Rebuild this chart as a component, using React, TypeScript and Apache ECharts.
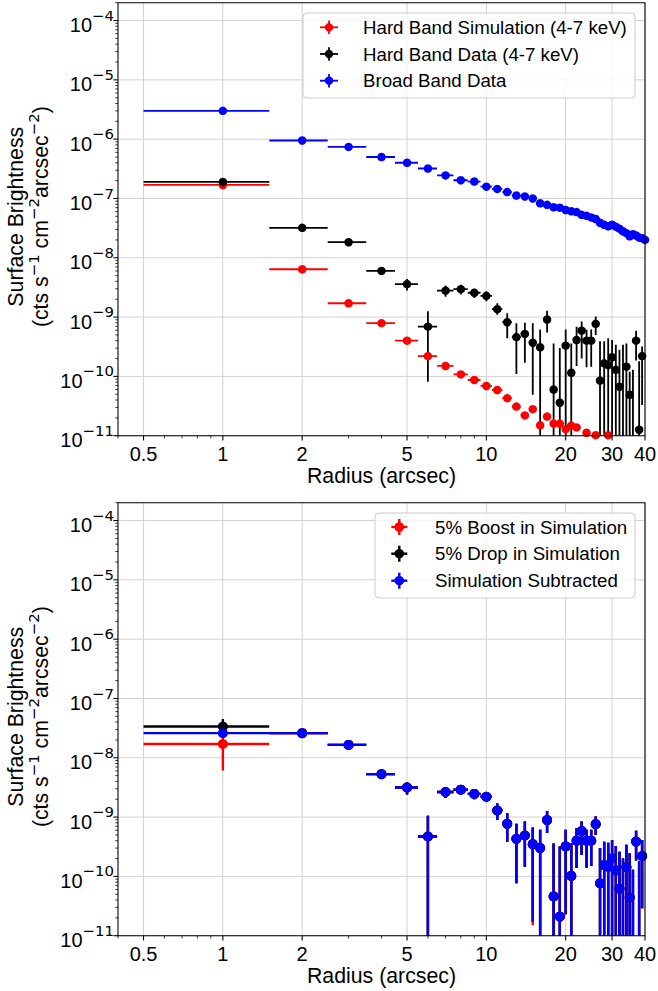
import React, { useEffect, useRef } from "react";
import * as echarts from "echarts";

// ---------------- DATA ----------------
const radii = [1, 2, 3, 4, 5, 6, 7, 8, 9, 10, 11, 12, 13, 14, 15, 16, 17, 18, 19, 20, 21, 22, 23, 24, 25, 26, 27, 28, 29, 30, 31, 32, 33, 34, 35, 36, 37, 38, 39, 40];
const binHalfWidth = 0.5;

// Top panel
const hardSimVal = [1.69e-7, 6.4e-9, 1.71e-9, 7.9e-10, 4.0e-10, 2.2e-10, 1.5e-10, 1.08e-10, 8.7e-11, 6.9e-11, 5.9e-11, 4.3e-11, 3.1e-11, 2.2e-11, 2.8e-11, 1.5e-11, 2.1e-11, 1.6e-11, 1.6e-11, 1.29e-11, 1.48e-11, 1.38e-11, null, 1.12e-11, null, 1.02e-11, null, null, 1.02e-11, null, null, null, null, null, null, null, null, null, null, null];

const hardDataVal = [1.9e-7, 3.2e-8, 1.83e-8, 6.0e-9, 3.6e-9, 6.9e-10, 2.8e-9, 2.96e-9, 2.57e-9, 2.28e-9, 1.36e-9, 8.2e-10, 4.6e-10, 5.2e-10, 3.7e-10, 3.1e-10, 9.1e-10, 6.0e-11, 3.6e-11, 3.3e-10, 1.15e-10, 4.1e-10, 5.9e-10, 4.0e-10, 4.0e-10, 7.7e-10, 8.5e-11, 1.66e-10, 1.55e-10, 2.1e-10, 1.29e-10, 6.7e-11, 5e-12, 1.46e-10, 4.9e-11, 5e-12, 4.0e-10, 1.26e-11, 2.2e-10, null];
const hardDataLo = [1.8e-7, 3.0e-8, 1.72e-8, 5.1e-9, 2.8e-9, 8.1e-11, 2.2e-9, 2.4e-9, 2.1e-9, 1.85e-9, 1.09e-9, 4.4e-10, 1.1e-10, 1.7e-10, 4.9e-11, 1e-12, 5.5e-10, 1e-12, 1e-12, 1e-12, 1e-12, 1.5e-10, 2.0e-10, 1.43e-10, 1.45e-10, 5.0e-10, 1e-12, 1e-12, 1e-12, 1e-12, 1e-12, 1e-12, 1e-12, 1e-12, 1e-12, 1e-12, 1.86e-10, 1e-12, 3.3e-11, null];
const hardDataHi = [2.0e-7, 3.4e-8, 1.95e-8, 7.0e-9, 4.4e-9, 1.26e-9, 3.4e-9, 3.5e-9, 3.0e-9, 2.7e-9, 1.71e-9, 1.16e-9, 7.9e-10, 8.05e-10, 7.9e-10, 6.2e-10, 1.28e-9, 3.6e-10, 3.0e-10, 6.2e-10, 3.6e-10, 6.9e-10, 8.4e-10, 6.1e-10, 6.2e-10, 1.02e-9, 3.9e-10, 3.9e-10, 4.4e-10, 4.1e-10, 3.4e-10, 2.8e-10, 3.4e-10, 3.6e-10, 1.2e-10, 1.3e-10, 5.9e-10, 1.8e-10, 3.2e-10, null];

const broadVal = [3.0e-6, 9.5e-7, 7.4e-7, 5.0e-7, 4.0e-7, 3.2e-7, 2.45e-7, 2.03e-7, 1.93e-7, 1.58e-7, 1.45e-7, 1.28e-7, 1.12e-7, 1.08e-7, 1.0e-7, 8.3e-8, 7.8e-8, 7.1e-8, 7.0e-8, 6.4e-8, 6.1e-8, 5.9e-8, 5.3e-8, 5.1e-8, 4.8e-8, 4.5e-8, 3.9e-8, 3.6e-8, 3.4e-8, 3.6e-8, 3.35e-8, 3.1e-8, 2.8e-8, 2.6e-8, 2.3e-8, 2.5e-8, 2.37e-8, 2.2e-8, 2.14e-8, 2.0e-8];

// Bottom panel
const boostVal = [1.71e-8, 2.6e-8, 1.65e-8, 5.3e-9, 3.15e-9, 4.7e-10, 2.65e-9, 2.9e-9, 2.46e-9, 2.2e-9, 1.29e-9, 7.7e-10, 4.3e-10, 4.9e-10, 3.5e-10, 3.0e-10, 8.9e-10, 4.6e-11, 2.1e-11, 3.2e-10, 1.02e-10, 4.0e-10, 5.8e-10, 4.0e-10, 4.0e-10, 7.6e-10, 7.65e-11, 1.55e-10, 1.46e-10, 2.0e-10, 1.26e-10, 6.2e-11, 5e-12, 1.43e-10, 4.4e-11, 5e-12, 3.86e-10, 5e-12, 2.2e-10, null];
const boostLo = [6.1e-9, 2.5e-8, 1.55e-8, 4.4e-9, 2.4e-9, 1e-12, 2.1e-9, 2.4e-9, 2.0e-9, 1.8e-9, 8.9e-10, 3.85e-10, 7.7e-11, 1.46e-10, 1.5e-11, 1e-12, 5.4e-10, 1e-12, 1e-12, 2.3e-11, 1e-12, 1.38e-10, 2.3e-10, 1.4e-10, 1.5e-10, 5.0e-10, 1e-12, 1e-12, 1e-12, 1e-12, 1e-12, 1e-12, 1e-12, 1e-12, 1e-12, 1e-12, 1.86e-10, 1e-12, 2.9e-11, null];
const boostHi = [2.8e-8, 2.7e-8, 1.75e-8, 6.2e-9, 3.9e-9, 1.05e-9, 3.2e-9, 3.4e-9, 2.9e-9, 2.6e-9, 1.7e-9, 1.16e-9, 7.7e-10, 8.4e-10, 6.7e-10, 6.1e-10, 1.27e-9, 3.6e-10, 3.2e-10, 6.1e-10, 3.6e-10, 6.5e-10, 8.4e-10, 6.1e-10, 6.1e-10, 1.02e-9, 3.0e-10, 3.85e-10, 3.7e-10, 4.1e-10, 3.26e-10, 2.6e-10, 2.0e-10, 3.4e-10, 2.46e-10, 1.29e-10, 5.9e-10, 1.8e-10, 4.1e-10, null];

const dropVal = [3.36e-8, 2.6e-8, 1.65e-8, 5.3e-9, 3.15e-9, 4.7e-10, 2.65e-9, 2.9e-9, 2.46e-9, 2.2e-9, 1.29e-9, 7.7e-10, 4.3e-10, 4.9e-10, 3.5e-10, 3.0e-10, 8.9e-10, 4.6e-11, 2.1e-11, 3.2e-10, 1.02e-10, 4.0e-10, 5.8e-10, 4.0e-10, 4.0e-10, 7.6e-10, 7.65e-11, 1.55e-10, 1.46e-10, 2.0e-10, 1.26e-10, 6.2e-11, 5e-12, 1.43e-10, 4.4e-11, 5e-12, 3.86e-10, 5e-12, 2.2e-10, null];
const dropLo = [2.3e-8, 2.5e-8, 1.55e-8, 4.4e-9, 2.4e-9, 1e-12, 2.1e-9, 2.4e-9, 2.0e-9, 1.8e-9, 8.9e-10, 3.85e-10, 7.7e-11, 1.46e-10, 1.7e-11, 1e-12, 5.4e-10, 1e-12, 1e-12, 2.3e-11, 1e-12, 1.38e-10, 2.3e-10, 1.4e-10, 1.5e-10, 5.0e-10, 1e-12, 1e-12, 1e-12, 1e-12, 1e-12, 1e-12, 1e-12, 1e-12, 1e-12, 1e-12, 1.86e-10, 1e-12, 2.9e-11, null];
const dropHi = [4.5e-8, 2.7e-8, 1.75e-8, 6.2e-9, 3.9e-9, 1.05e-9, 3.2e-9, 3.4e-9, 2.9e-9, 2.6e-9, 1.7e-9, 1.16e-9, 7.7e-10, 8.4e-10, 6.7e-10, 6.1e-10, 1.27e-9, 3.6e-10, 3.2e-10, 6.1e-10, 3.6e-10, 6.5e-10, 8.4e-10, 6.1e-10, 6.1e-10, 1.02e-9, 3.0e-10, 3.85e-10, 3.7e-10, 4.1e-10, 3.26e-10, 2.6e-10, 2.0e-10, 3.4e-10, 2.46e-10, 1.29e-10, 5.9e-10, 1.8e-10, 4.1e-10, null];

const subVal = [2.6e-8, 2.6e-8, 1.65e-8, 5.3e-9, 3.15e-9, 4.7e-10, 2.65e-9, 2.9e-9, 2.46e-9, 2.2e-9, 1.29e-9, 7.7e-10, 4.3e-10, 4.9e-10, 3.5e-10, 3.0e-10, 8.9e-10, 4.6e-11, 2.1e-11, 3.2e-10, 1.02e-10, 4.0e-10, 5.8e-10, 4.0e-10, 4.0e-10, 7.6e-10, 7.65e-11, 1.55e-10, 1.46e-10, 2.0e-10, 1.26e-10, 6.2e-11, 5e-12, 1.43e-10, 4.4e-11, 5e-12, 3.86e-10, 5e-12, 2.2e-10, null];
const subLo = [2.5e-8, 2.5e-8, 1.55e-8, 4.4e-9, 2.4e-9, 1e-12, 2.1e-9, 2.4e-9, 2.0e-9, 1.8e-9, 8.9e-10, 3.85e-10, 7.7e-11, 1.46e-10, 1.7e-11, 1e-12, 5.4e-10, 1e-12, 1e-12, 2.3e-11, 1e-12, 1.38e-10, 2.3e-10, 1.4e-10, 1.5e-10, 5.0e-10, 1e-12, 1e-12, 1e-12, 1e-12, 1e-12, 1e-12, 1e-12, 1e-12, 1e-12, 1e-12, 1.86e-10, 1e-12, 2.9e-11, null];
const subHi = [2.7e-8, 2.7e-8, 1.75e-8, 6.2e-9, 3.9e-9, 1.05e-9, 3.2e-9, 3.4e-9, 2.9e-9, 2.6e-9, 1.7e-9, 1.16e-9, 7.7e-10, 8.4e-10, 6.7e-10, 6.1e-10, 1.27e-9, 3.6e-10, 3.2e-10, 6.1e-10, 3.6e-10, 6.5e-10, 8.4e-10, 6.1e-10, 6.1e-10, 1.02e-9, 3.0e-10, 3.85e-10, 3.7e-10, 4.1e-10, 3.26e-10, 2.6e-10, 2.0e-10, 3.4e-10, 2.46e-10, 1.29e-10, 5.9e-10, 1.8e-10, 4.1e-10, null];

// Axes / ticks
const X_MIN = 0.4;
const X_MAX = 40;
const Y_MIN = 1e-11;
const Y_MAX = 2e-4;
const xMajorTicks = [0.5, 1, 2, 5, 10, 20, 30, 40];
const xTickLabels = ["0.5", "1", "2", "5", "10", "20", "30", "40"];
const xMinorTicks = [0.4, 0.6, 0.7, 0.8, 0.9, 3, 4, 6, 7, 8, 9];
const yDecadeExps = [-11, -10, -9, -8, -7, -6, -5, -4];
const yMinorMultipliers = [2, 3, 4, 5, 6, 7, 8, 9];

// Texts
const topLegendLabels = ["Hard Band Simulation (4-7 keV)", "Hard Band Data (4-7 keV)", "Broad Band Data"];
const bottomLegendLabels = ["5% Boost in Simulation", "5% Drop in Simulation", "Simulation Subtracted"];
const xAxisTitle = "Radius (arcsec)";
const yAxisTitle1 = "Surface Brightness";

// ---------------- STYLE / LAYOUT ----------------
const RED = "#ff0000";
const BLACK = "#000000";
const BLUE = "#0000ff";
const GRID_COLOR = "#d2d2d2";
const FONT = '"Liberation Sans", Arial, Helvetica, sans-serif';
const MATH = '"DejaVu Sans", sans-serif';
const GRID_LEFT = 118;
const GRID_W = 527;
const GRID_H = 433;
const gridTops = [2.7, 502.7];

const supRich = {
  b: { fontSize: 20, fontFamily: FONT, lineHeight: 34, fill: "#000", color: "#000" },
  s: { fontSize: 14.9, fontFamily: MATH, lineHeight: 15, verticalAlign: "top", fill: "#000", color: "#000" },
};
const titleRich = {
  r: { fontSize: 21.3, fontFamily: FONT, lineHeight: 30, fill: "#000", color: "#000" },
  s: { fontSize: 14.9, fontFamily: MATH, lineHeight: 15, verticalAlign: "top", fill: "#000", color: "#000" },
};

function textStyle(text: string, size: number, align: string, vAlign: string, family = FONT, extra: any = {}) {
  return {
    text,
    fontSize: size,
    fontFamily: family,
    fill: "#000",
    align,
    verticalAlign: vAlign,
    textAlign: align,
    textVerticalAlign: vAlign,
    ...extra,
  };
}

function gridLinesSeries(gi: number) {
  return {
    type: "custom",
    xAxisIndex: gi,
    yAxisIndex: gi,
    silent: true,
    z: 1,
    data: [[1, 1e-8]],
    renderItem: (params: any, api: any) => {
      const cs = params.coordSys;
      const T = cs.y, B = cs.y + cs.height, L = cs.x, R = cs.x + cs.width;
      const children: any[] = [];
      xMajorTicks.forEach((v) => {
        const p = api.coord([v, Y_MIN]);
        children.push({ type: "line", shape: { x1: p[0], y1: T, x2: p[0], y2: B }, style: { stroke: GRID_COLOR, lineWidth: 1 } });
      });
      yDecadeExps.forEach((e) => {
        const p = api.coord([X_MIN, Math.pow(10, e)]);
        children.push({ type: "line", shape: { x1: L, y1: p[1], x2: R, y2: p[1] }, style: { stroke: GRID_COLOR, lineWidth: 1 } });
      });
      return { type: "group", children };
    },
  };
}

function frameSeries(gi: number) {
  return {
    type: "custom",
    xAxisIndex: gi,
    yAxisIndex: gi,
    silent: true,
    z: 10,
    data: [[1, 1e-8]],
    renderItem: (params: any, api: any) => {
      const cs = params.coordSys;
      const T = cs.y, B = cs.y + cs.height, L = cs.x, R = cs.x + cs.width;
      const children: any[] = [];
      children.push({ type: "rect", shape: { x: L, y: T, width: cs.width, height: cs.height }, style: { fill: "none", stroke: "#000", lineWidth: 1.07 } });
      xMajorTicks.forEach((v, i) => {
        const p = api.coord([v, Y_MIN]);
        children.push({ type: "line", shape: { x1: p[0], y1: B, x2: p[0], y2: B + 4.7 }, style: { stroke: "#000", lineWidth: 1.07 } });
        children.push({ type: "text", x: p[0], y: B + 17.8, style: textStyle(xTickLabels[i], 20, "center", "middle") });
      });
      xMinorTicks.forEach((v) => {
        const p = api.coord([v, Y_MIN]);
        children.push({ type: "line", shape: { x1: p[0], y1: B, x2: p[0], y2: B + 2.7 }, style: { stroke: "#000", lineWidth: 0.8 } });
      });
      yDecadeExps.forEach((e) => {
        const p = api.coord([X_MIN, Math.pow(10, e)]);
        children.push({ type: "line", shape: { x1: L - 4.7, y1: p[1], x2: L, y2: p[1] }, style: { stroke: "#000", lineWidth: 1.07 } });
        children.push({
          type: "text",
          x: L - 4,
          y: p[1] + 4.6,
          style: textStyle(`{b|10}{s|\u2212${-e}}`, 20, "right", "middle", FONT, { rich: supRich }),
        });
        yMinorMultipliers.forEach((m) => {
          const v = m * Math.pow(10, e);
          if (v <= Y_MAX * 1.0001) {
            const q = api.coord([X_MIN, v]);
            children.push({ type: "line", shape: { x1: L - 2.7, y1: q[1], x2: L, y2: q[1] }, style: { stroke: "#000", lineWidth: 0.8 } });
          }
        });
      });
      children.push({ type: "text", x: (L + R) / 2, y: B + 40.3, style: textStyle(xAxisTitle, 21.3, "center", "middle") });
      const cy = (T + B) / 2 - 2.5;
      children.push({ type: "text", x: 15.8, y: cy, rotation: Math.PI / 2, style: textStyle(yAxisTitle1, 21.3, "center", "middle") });
      children.push({
        type: "text",
        x: 41,
        y: cy,
        rotation: Math.PI / 2,
        style: textStyle(
          "{r|(cts s}{s|\u22121}{r| cm}{s|\u22122}{r|arcsec}{s|\u22122}{r|)}",
          21.3,
          "center",
          "middle",
          FONT,
          { rich: titleRich }
        ),
      });
      return { type: "group", children };
    },
  };
}

function errorBarSeries(gi: number, vals: (number | null)[], lo: (number | null)[] | null, hi: (number | null)[] | null, color: string, lw: number) {
  const data: any[] = [];
  radii.forEach((r, i) => {
    const v = vals[i];
    if (v == null) return;
    const l = lo ? lo[i] : null;
    const h = hi ? hi[i] : null;
    data.push([r, v, l == null ? "-" : l, h == null ? "-" : h, r - binHalfWidth, r + binHalfWidth]);
  });
  return {
    type: "custom",
    xAxisIndex: gi,
    yAxisIndex: gi,
    silent: true,
    clip: true,
    z: 2,
    data,
    renderItem: (params: any, api: any) => {
      const x = api.value(0), y = api.value(1), l = api.value(2), h = api.value(3), xl = api.value(4), xr = api.value(5);
      const children: any[] = [];
      if (isFinite(y)) {
        const a = api.coord([xl, y]);
        const b = api.coord([xr, y]);
        children.push({ type: "line", shape: { x1: a[0], y1: a[1], x2: b[0], y2: b[1] }, style: { stroke: color, lineWidth: lw } });
      }
      if (isFinite(l) && isFinite(h) && l > 0 && h > 0) {
        const a = api.coord([x, l]);
        const b = api.coord([x, h]);
        children.push({ type: "line", shape: { x1: a[0], y1: a[1], x2: b[0], y2: b[1] }, style: { stroke: color, lineWidth: lw } });
      }
      return { type: "group", children };
    },
  };
}

function markerSeries(gi: number, vals: (number | null)[], color: string, size: number) {
  const data = radii.map((r, i) => [r, vals[i]]).filter((d) => d[1] != null);
  return {
    type: "scatter",
    xAxisIndex: gi,
    yAxisIndex: gi,
    silent: true,
    clip: true,
    z: 3,
    symbol: "circle",
    symbolSize: size,
    itemStyle: { color, opacity: 1 },
    data,
  };
}

function legendGraphics(box: any, cx: number, rows: number[], textX: number, labels: string[], colors: string[], hx: number, hy: number, dot: number, lw: number) {
  const els: any[] = [];
  els.push({
    type: "rect",
    z: 100,
    shape: { x: box.x, y: box.y, width: box.w, height: box.h, r: 4 },
    style: { fill: "rgba(255,255,255,0.8)", stroke: "#cccccc", lineWidth: 1 },
  });
  rows.forEach((y, i) => {
    els.push({ type: "line", z: 101, shape: { x1: cx - hx, y1: y, x2: cx + hx, y2: y }, style: { stroke: colors[i], lineWidth: lw } });
    els.push({ type: "line", z: 101, shape: { x1: cx, y1: y - hy, x2: cx, y2: y + hy }, style: { stroke: colors[i], lineWidth: lw } });
    els.push({ type: "circle", z: 102, shape: { cx, cy: y, r: dot }, style: { fill: colors[i] } });
    els.push({ type: "text", z: 102, x: textX, y, style: textStyle(labels[i], 18.7, "left", "middle") });
  });
  return els;
}

function buildOption() {
  const grid = gridTops.map((t) => ({ left: GRID_LEFT, top: t, width: GRID_W, height: GRID_H, containLabel: false, show: false }));
  const xAxis = [0, 1].map((i) => ({ type: "log", logBase: 10, gridIndex: i, min: X_MIN, max: X_MAX, show: false }));
  const yAxis = [0, 1].map((i) => ({ type: "log", logBase: 10, gridIndex: i, min: Y_MIN, max: Y_MAX, show: false }));
  const TOP_LW = 1.8, BOT_LW = 2.4, TOP_MS = 8.5, BOT_MS = 10;
  const series: any[] = [
    gridLinesSeries(0),
    gridLinesSeries(1),
    // top panel
    errorBarSeries(0, hardSimVal, null, null, RED, TOP_LW),
    errorBarSeries(0, hardDataVal, hardDataLo, hardDataHi, BLACK, TOP_LW),
    errorBarSeries(0, broadVal, null, null, BLUE, TOP_LW),
    markerSeries(0, hardSimVal, RED, TOP_MS),
    markerSeries(0, hardDataVal, BLACK, TOP_MS),
    markerSeries(0, broadVal, BLUE, TOP_MS),
    // bottom panel
    errorBarSeries(1, boostVal, boostLo, boostHi, RED, BOT_LW),
    errorBarSeries(1, dropVal, dropLo, dropHi, BLACK, BOT_LW),
    errorBarSeries(1, subVal, subLo, subHi, BLUE, BOT_LW),
    markerSeries(1, boostVal, RED, BOT_MS),
    markerSeries(1, dropVal, BLACK, BOT_MS),
    markerSeries(1, subVal, BLUE, BOT_MS),
    frameSeries(0),
    frameSeries(1),
  ];
  const graphic = [
    ...legendGraphics({ x: 303, y: 13, w: 332, h: 85 }, 329, [27.3, 54, 80.7], 363, topLegendLabels, [RED, BLACK, BLUE], 9, 6.7, 4.2, TOP_LW),
    ...legendGraphics({ x: 375, y: 513, w: 260, h: 85 }, 399.3, [527, 553.7, 580.7], 435, bottomLegendLabels, [RED, BLACK, BLUE], 8, 8, 4.8, BOT_LW),
  ];
  return {
    animation: false,
    backgroundColor: "#ffffff",
    grid,
    xAxis,
    yAxis,
    series,
    graphic,
  };
}

export default function App() {
  const ref = useRef<HTMLDivElement>(null);
  useEffect(() => {
    if (!ref.current) return;
    const chart = echarts.init(ref.current, null, { renderer: "svg" });
    chart.setOption(buildOption() as any);
    return () => chart.dispose();
  }, []);
  return <div ref={ref} style={{ position: "absolute", left: 0, top: 0, width: 658, height: 991, background: "#fff" }} />;
}
